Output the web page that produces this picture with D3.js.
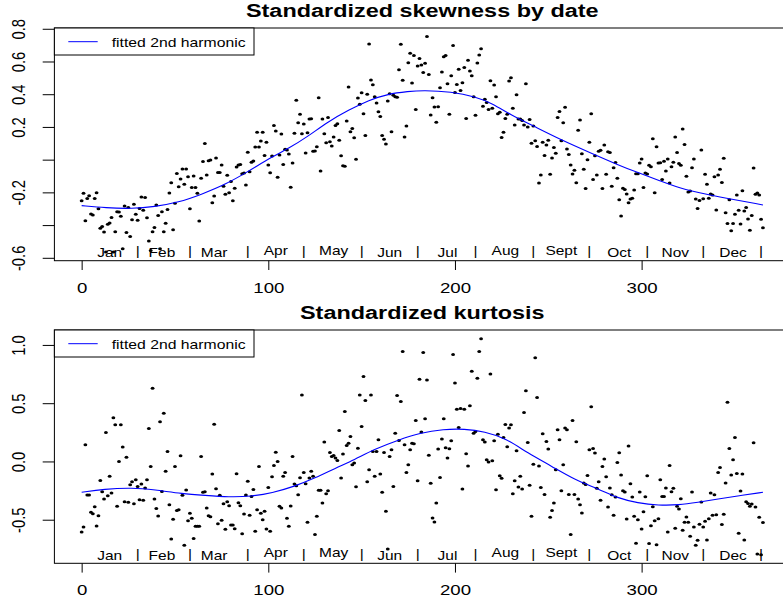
<!DOCTYPE html>
<html>
<head>
<meta charset="utf-8">
<script src="https://cdn.jsdelivr.net/npm/d3@7"></script>
<style>
  html, body { margin: 0; padding: 0; background: #ffffff; }
  svg { display: block; }
</style>
</head>
<body>
<svg id="chart" width="783" height="603"></svg>
<script>
// Daily standardized skewness, day of year 0..365
const skewness = [
  -0.251,-0.206,-0.373,-0.237,-0.220,-0.332,-0.338,-0.237,-0.202,-0.300,
  -0.420,-0.408,-0.442,-0.565,-0.395,-0.387,-0.353,-0.565,-0.440,-0.318,
  -0.320,-0.346,-0.545,-0.283,-0.446,-0.293,-0.469,-0.367,-0.273,-0.334,
  -0.371,-0.298,-0.228,-0.310,-0.232,-0.355,-0.497,-0.555,-0.440,-0.414,
  -0.277,-0.342,-0.545,-0.318,-0.440,-0.389,-0.304,-0.204,-0.141,-0.428,
  -0.267,-0.084,-0.165,-0.118,-0.057,-0.151,-0.057,-0.104,-0.300,-0.171,
  -0.100,-0.171,-0.206,-0.375,-0.114,-0.012,0.098,-0.094,-0.006,-0.002,
  -0.263,-0.222,0.010,-0.078,-0.078,-0.033,-0.163,-0.212,-0.096,-0.202,
  -0.133,-0.251,-0.175,-0.045,-0.033,-0.029,-0.086,-0.082,-0.155,0.045,
  -0.074,-0.016,-0.008,0.077,0.167,0.077,0.114,0.167,0.026,0.106,
  -0.033,-0.080,0.022,0.208,0.175,-0.108,0.028,0.157,-0.029,0.063,
  0.059,0.034,-0.169,-0.021,0.161,0.363,0.226,0.277,0.159,0.218,
  0.041,0.165,0.248,0.250,0.051,0.053,0.079,0.379,-0.069,0.248,
  0.159,0.104,0.257,0.110,0.083,0.138,0.208,0.220,0.118,0.024,
  -0.037,-0.041,0.236,0.444,0.171,0.191,0.134,0.002,0.377,0.338,
  0.409,0.281,0.147,0.399,0.707,0.487,0.458,0.385,0.346,0.293,
  0.263,0.147,0.124,0.096,0.358,0.403,0.171,0.393,0.385,0.381,
  0.550,0.705,0.485,0.138,0.206,0.593,0.650,0.468,0.636,0.307,
  0.572,0.619,0.578,0.532,0.589,0.752,0.521,0.273,0.379,0.322,
  0.228,0.324,0.440,0.536,0.629,0.636,0.464,0.277,0.513,0.697,
  0.411,0.460,0.552,0.422,0.470,0.564,0.252,0.607,0.542,0.513,
  0.385,0.271,0.591,0.640,0.678,0.326,0.369,0.350,0.307,0.483,
  0.314,0.456,0.385,0.281,0.289,0.136,0.167,0.252,0.277,0.481,
  0.501,0.314,0.212,0.397,0.248,0.248,0.240,0.212,0.464,0.200,
  0.246,0.100,0.206,0.116,0.081,-0.143,-0.094,0.106,0.026,0.089,
  0.118,-0.090,0.010,0.075,0.039,0.257,0.295,0.116,0.226,0.320,
  0.065,0.032,-0.033,-0.088,-0.065,-0.141,0.179,0.242,0.036,-0.059,
  -0.177,0.000,0.106,0.281,-0.122,0.024,-0.094,0.051,0.057,-0.177,
  0.089,-0.090,0.049,0.043,-0.163,-0.049,-0.018,-0.114,-0.245,-0.344,
  -0.175,-0.183,-0.210,-0.263,-0.241,-0.236,-0.186,-0.086,-0.086,-0.021,
  0.004,-0.171,-0.082,-0.088,-0.035,-0.043,0.128,-0.202,0.079,-0.021,
  -0.019,-0.122,-0.010,-0.069,0.004,-0.143,-0.043,-0.016,0.138,0.043,
  -0.023,-0.035,0.187,0.092,-0.102,-0.198,-0.192,-0.049,0.004,-0.241,
  -0.298,-0.249,0.059,-0.239,-0.090,-0.151,-0.236,-0.210,-0.216,-0.104,
  -0.308,-0.094,-0.059,-0.139,0.008,-0.324,-0.391,-0.245,-0.434,-0.391,
  -0.334,-0.216,-0.310,-0.393,-0.190,-0.314,-0.293,-0.363,-0.432,-0.342,
  -0.051,-0.212,-0.204,-0.216,-0.365,-0.416
];

// Daily standardized kurtosis, day of year 0..365
const kurtosis = [
  -0.605,-0.562,0.143,-0.288,-0.288,-0.437,-0.448,-0.388,-0.554,-0.465,
  -0.163,-0.260,-0.323,0.249,-0.294,-0.128,-0.271,0.374,0.314,-0.385,
  0.000,0.314,0.123,-0.345,0.037,-0.351,-0.200,-0.174,-0.363,-0.157,
  -0.214,-0.328,-0.194,-0.334,-0.228,-0.157,0.283,-0.043,0.629,-0.323,
  -0.403,-0.468,0.340,-0.257,0.414,-0.085,0.086,-0.371,-0.665,-0.497,
  -0.043,-0.420,-0.414,0.049,-0.291,-0.720,-0.245,-0.508,-0.445,-0.488,
  -0.662,-0.557,-0.557,-0.557,0.043,-0.265,-0.260,-0.400,-0.465,-0.474,
  -0.108,0.320,-0.234,-0.534,-0.291,-0.505,-0.363,-0.582,-0.345,-0.380,
  -0.545,-0.545,-0.577,-0.105,-0.354,-0.380,-0.620,-0.451,-0.288,-0.171,
  -0.462,-0.300,-0.240,-0.600,-0.414,-0.043,-0.445,-0.500,-0.428,-0.580,
  -0.223,-0.600,-0.131,-0.034,0.080,0.000,-0.385,-0.400,-0.128,-0.094,
  -0.488,-0.557,-0.383,0.043,-0.194,-0.208,-0.285,-0.140,0.571,-0.094,
  -0.191,-0.522,-0.143,-0.085,-0.128,-0.628,-0.471,-0.248,-0.248,-0.357,
  0.166,-0.277,-0.251,0.077,0.043,0.052,0.029,0.009,0.266,-0.143,
  0.063,0.429,0.137,0.157,0.214,-0.028,-0.014,-0.217,0.114,0.571,
  0.300,0.729,0.523,-0.174,-0.071,0.571,0.086,-0.128,0.086,0.186,
  -0.108,-0.265,0.077,-0.428,-0.751,0.043,0.100,-0.214,0.243,0.566,
  0.180,0.514,0.943,0.143,-0.094,-0.028,0.100,0.157,0.152,0.352,
  -0.165,0.706,0.252,0.934,0.366,0.700,0.054,-0.188,-0.485,-0.520,
  -0.357,0.106,-0.137,0.192,0.366,0.117,0.029,0.109,0.177,0.917,
  0.674,0.449,0.292,0.454,-0.237,0.449,0.066,-0.040,0.477,0.774,
  0.243,0.257,0.714,0.943,1.054,0.186,0.166,0.015,-0.005,0.751,
  0.006,0.177,-0.243,0.234,-0.123,-0.145,0.206,0.317,0.126,0.286,
  0.314,-0.277,-0.165,0.092,-0.220,-0.128,-0.237,0.420,0.606,0.163,
  -0.205,-0.471,-0.023,0.889,0.549,-0.040,-0.223,0.237,-0.283,0.172,
  0.106,-0.480,-0.422,-0.357,-0.071,0.272,0.186,-0.251,-0.028,0.286,
  0.272,-0.283,-0.628,0.352,-0.283,0.169,-0.322,-0.371,-0.442,-0.185,
  -0.197,-0.120,0.100,0.469,0.112,0.072,-0.231,-0.174,-0.334,-0.043,
  0.020,-0.131,-0.391,-0.228,-0.285,-0.462,-0.305,-0.008,0.075,-0.117,
  -0.251,-0.263,-0.494,0.132,-0.191,-0.305,-0.471,-0.702,-0.500,-0.263,
  -0.580,-0.431,-0.303,-0.123,-0.705,-0.551,-0.388,-0.508,-0.714,-0.491,
  -0.157,-0.300,-0.300,-0.228,-0.605,-0.034,-0.260,-0.231,-0.574,-0.385,
  -0.408,-0.320,-0.591,-0.522,-0.477,-0.522,-0.642,-0.263,-0.562,-0.720,
  -0.677,-0.540,-0.348,-0.562,-0.514,-0.674,-0.491,-0.271,-0.462,-0.285,
  -0.457,-0.094,-0.051,-0.542,-0.454,-0.185,0.509,0.112,-0.117,0.015,
  0.206,-0.103,-0.617,-0.254,-0.108,-0.674,-0.345,-0.360,-0.385,-0.365,
  0.160,-0.391,-0.795,-0.480,-0.800,-0.525
];

// Fitted 2nd-harmonic curves, sampled by day of year
const skewFitDays   = [0, 13, 27, 39, 52, 64, 77, 89, 102, 111, 121, 132, 143, 154, 164, 175, 183, 198, 211, 220, 230, 241, 257, 275, 287, 297, 309, 323, 341, 365];
const skewFitValues = [-0.281, -0.295, -0.300, -0.288, -0.261, -0.213, -0.152, -0.074, 0.018, 0.069, 0.140, 0.232, 0.303, 0.364, 0.401, 0.417, 0.424, 0.415, 0.385, 0.344, 0.273, 0.212, 0.120, 0.030, -0.030, -0.075, -0.125, -0.186, -0.226, -0.277];
const kurtFitDays   = [0, 12, 27, 39, 54, 66, 79, 91, 102, 114, 125, 136, 146, 157, 170, 181, 194, 205, 216, 227, 239, 252, 264, 277, 287, 298, 309, 320, 330, 341, 352, 365];
const kurtFitValues = [-0.265, -0.237, -0.225, -0.243, -0.277, -0.291, -0.306, -0.300, -0.271, -0.214, -0.143, -0.057, 0.014, 0.106, 0.186, 0.243, 0.277, 0.280, 0.257, 0.200, 0.072, -0.043, -0.157, -0.237, -0.314, -0.357, -0.377, -0.374, -0.351, -0.323, -0.294, -0.265];

// Month labels (mid-month) and separators (last day of each month)
const monthNames = ["Jan", "Feb", "Mar", "Apr", "May", "Jun", "Jul", "Aug", "Sept", "Oct", "Nov", "Dec"];
const monthMid   = [15, 43, 71, 104, 135, 165, 196, 227, 257, 288, 318, 349];
const monthEnd   = [30, 58, 89, 119, 150, 180, 211, 242, 272, 303, 333, 364];

const xTickValues    = [0, 100, 200, 300];
const skewTickValues = [-0.6, -0.4, -0.2, 0.0, 0.2, 0.4, 0.6, 0.8];
const skewTickLabels = ["-0.6", "", "-0.2", "", "0.2", "0.4", "0.6", "0.8"];
const kurtTickValues = [-0.5, 0.0, 0.5, 1.0];
const kurtTickLabels = ["-0.5", "0.0", "0.5", "1.0"];
const legendLabel = "fitted 2nd harmonic";

// ---- drawing ----
const SX = 1.26;                 // horizontal text stretch
const FONT = "'Liberation Sans', Arial, Helvetica, sans-serif";
const BOX_LEFT = 54.4, BOX_RIGHT = 790.2;

const svg = d3.select("#chart");
const padded = (lo, hi) => { const p = (hi - lo) * 0.04; return [lo - p, hi + p]; };

const x = d3.scaleLinear()
  .domain(padded(0, skewness.length - 1))
  .range([BOX_LEFT, BOX_RIGHT]);

const panels = [
  { title: "Standardized skewness by date", values: skewness,
    fitDays: skewFitDays, fitValues: skewFitValues,
    ticks: skewTickValues, labels: skewTickLabels, top: 28, bottom: 260.7 },
  { title: "Standardized kurtosis", values: kurtosis,
    fitDays: kurtFitDays, fitValues: kurtFitValues,
    ticks: kurtTickValues, labels: kurtTickLabels, top: 330, bottom: 563.3 }
];

function stretchedText(parent, px, py, str, size, opts = {}) {
  const t = parent.append("text")
    .attr("transform", `translate(${px},${py}) scale(${SX},1)` + (opts.rotate ? " rotate(-90)" : ""))
    .attr("font-family", FONT)
    .attr("font-size", size)
    .attr("text-anchor", opts.anchor || "middle")
    .attr("fill", "#000")
    .text(str);
  if (opts.bold) t.attr("font-weight", "bold");
  return t;
}

panels.forEach(p => {
  const y = d3.scaleLinear()
    .domain(padded(d3.min(p.values), d3.max(p.values)))
    .range([p.bottom, p.top]);

  const g = svg.append("g");

  // observations
  g.append("g").selectAll("ellipse")
    .data(p.values)
    .join("ellipse")
    .attr("cx", (d, i) => x(i))
    .attr("cy", d => y(d))
    .attr("rx", 1.9)
    .attr("ry", 1.5)
    .attr("fill", "#000");

  // fitted harmonic
  const line = d3.line()
    .x(d => x(d[0]))
    .y(d => y(d[1]))
    .curve(d3.curveBasis);
  g.append("path")
    .datum(p.fitDays.map((d, i) => [d, p.fitValues[i]]))
    .attr("d", line)
    .attr("fill", "none")
    .attr("stroke", "#0000ff")
    .attr("stroke-width", 1.1);

  // month names along the bottom of the plot region
  monthNames.forEach((m, i) => {
    const lift = /[gjpqy]/.test(m) ? 2.3 : 0;
    stretchedText(g, x(monthMid[i]), p.bottom - 3.6 - lift, m, 12.3);
    stretchedText(g, x(monthEnd[i]), p.bottom - 5.4, "|", 12.3);
  });

  // y axis
  const yAxis = g.append("g")
    .attr("transform", `translate(${BOX_LEFT},0)`)
    .call(d3.axisLeft(y).tickValues(p.ticks).tickSize(11.7).tickFormat((d, i) => p.labels[i]));
  yAxis.select(".domain").remove();
  yAxis.selectAll(".tick line").attr("stroke", "#000");
  yAxis.selectAll(".tick text")
    .attr("x", null).attr("dy", null)
    .attr("transform", `translate(${25.3 - BOX_LEFT},0) scale(${SX},1) rotate(-90)`)
    .attr("text-anchor", "middle")
    .attr("font-family", FONT)
    .attr("font-size", 14.8)
    .attr("fill", "#000");

  // x axis
  const xAxis = g.append("g")
    .attr("transform", `translate(0,${p.bottom})`)
    .call(d3.axisBottom(x).tickValues(xTickValues).tickSize(9.3).tickFormat(d3.format("d")));
  xAxis.select(".domain").remove();
  xAxis.selectAll(".tick line").attr("stroke", "#000");
  xAxis.selectAll(".tick text")
    .attr("y", null).attr("dy", null)
    .attr("transform", `translate(0,32) scale(${SX},1)`)
    .attr("font-family", FONT)
    .attr("font-size", 14.8)
    .attr("fill", "#000");

  // plot frame
  g.append("rect")
    .attr("x", BOX_LEFT).attr("y", p.top)
    .attr("width", BOX_RIGHT - BOX_LEFT).attr("height", p.bottom - p.top)
    .attr("fill", "none").attr("stroke", "#000").attr("stroke-width", 1);

  // title
  stretchedText(g, (BOX_LEFT + BOX_RIGHT) / 2, p.top - 10.7, p.title, 18.6, { bold: true });

  // legend
  const lg = g.append("g");
  lg.append("rect")
    .attr("x", BOX_LEFT).attr("y", p.top)
    .attr("width", 199.6).attr("height", 27)
    .attr("fill", "#fff").attr("stroke", "#000").attr("stroke-width", 1);
  lg.append("line")
    .attr("x1", 68.3).attr("x2", 97.7)
    .attr("y1", p.top + 13.7).attr("y2", p.top + 13.7)
    .attr("stroke", "#0000ff").attr("stroke-width", 1);
  stretchedText(lg, 111.7, p.top + 18.6, legendLabel, 12.5, { anchor: "start" });
});
</script>
</body>
</html>
